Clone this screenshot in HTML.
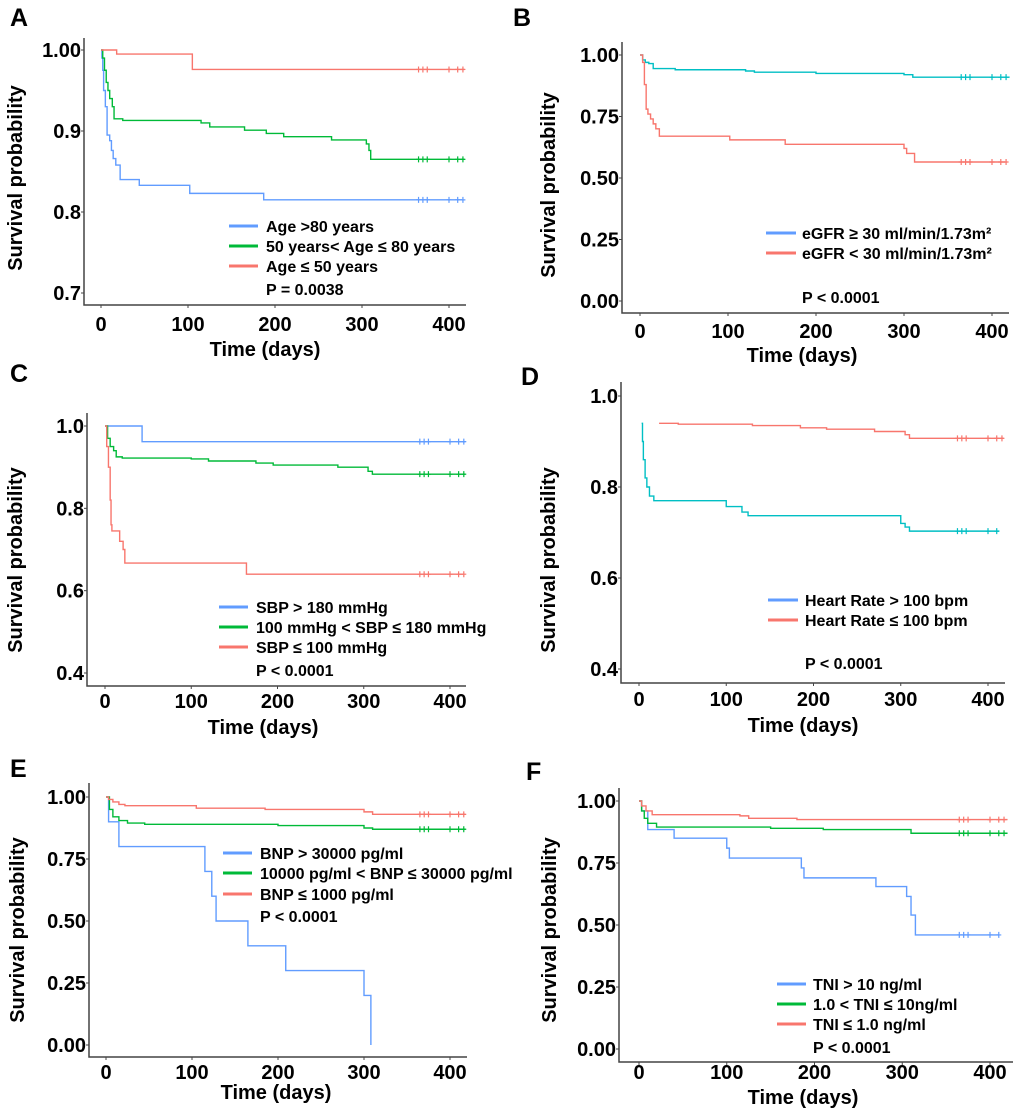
<!DOCTYPE html>
<html><head><meta charset="utf-8"><style>
body{margin:0;background:#fff}
svg{display:block;font-family:"Liberation Sans",Arial,sans-serif;font-weight:bold}
</style></head><body>
<svg id="fig" width="1020" height="1118" viewBox="0 0 1020 1118" xmlns="http://www.w3.org/2000/svg"></svg>
<script>
// ---- Data (days, survival) ----
const xTicks = [0,100,200,300,400];
const A_red = [[0,1],[18,0.995],[105,0.976],[418,0.976]];
const A_green = [[0,1],[2,0.99],[4,0.975],[6,0.96],[8,0.95],[10,0.94],[13,0.93],[15,0.915],[25,0.913],[115,0.91],[125,0.905],[165,0.901],[190,0.897],[210,0.893],[265,0.889],[305,0.884],[308,0.876],[310,0.865],[418,0.865]];
const A_blue = [[0,1],[1,0.99],[2,0.975],[3,0.95],[5,0.93],[7,0.895],[10,0.888],[12,0.876],[14,0.866],[17,0.858],[22,0.84],[44,0.833],[102,0.823],[187,0.815],[415,0.815]];
const B_teal = [[0,1],[3,0.98],[6,0.97],[10,0.965],[15,0.945],[40,0.94],[120,0.935],[130,0.93],[200,0.925],[300,0.92],[310,0.91],[420,0.91]];
const B_red = [[0,1],[3,0.97],[5,0.88],[7,0.78],[9,0.76],[12,0.74],[15,0.72],[18,0.70],[22,0.67],[102,0.655],[165,0.637],[300,0.62],[303,0.6],[312,0.565],[415,0.565]];
const C_blue = [[0,1],[43,0.962],[418,0.962]];
const C_green = [[0,1],[3,0.97],[6,0.95],[10,0.94],[13,0.925],[20,0.922],[100,0.92],[120,0.915],[175,0.91],[195,0.905],[270,0.9],[305,0.89],[310,0.883],[418,0.883]];
const C_red = [[0,1],[2,0.95],[4,0.9],[6,0.82],[7,0.76],[8,0.745],[17,0.72],[21,0.7],[23,0.667],[164,0.64],[415,0.64]];
const D_teal = [[3,0.94],[4,0.9],[5,0.86],[7,0.82],[9,0.8],[12,0.78],[17,0.77],[100,0.757],[118,0.745],[125,0.737],[300,0.72],[305,0.712],[310,0.703],[413,0.703]];
const D_red = [[23,0.94],[45,0.938],[130,0.935],[185,0.93],[215,0.927],[270,0.922],[305,0.915],[310,0.907],[418,0.907]];
const E_red = [[0,1],[3,0.99],[8,0.98],[15,0.97],[22,0.965],[105,0.955],[185,0.95],[300,0.94],[310,0.93],[418,0.93]];
const E_green = [[0,1],[4,0.95],[8,0.92],[15,0.905],[25,0.895],[45,0.89],[200,0.885],[300,0.875],[310,0.87],[418,0.87]];
const E_blue = [[0,1],[3,0.9],[15,0.8],[115,0.7],[123,0.6],[128,0.5],[165,0.4],[209,0.3],[300,0.2],[308,0.0]];
const F_red = [[0,1],[3,0.98],[8,0.96],[15,0.945],[115,0.94],[125,0.93],[180,0.925],[420,0.925]];
const F_green = [[0,1],[3,0.96],[6,0.93],[10,0.91],[20,0.895],[150,0.89],[210,0.885],[310,0.87],[420,0.87]];
const F_blue = [[0,1],[3,0.96],[8,0.96],[10,0.885],[40,0.85],[100,0.81],[103,0.77],[185,0.73],[188,0.69],[270,0.655],[305,0.615],[310,0.54],[315,0.46],[410,0.46]];
const censorTimes = [365,370,375,400,410,416];

const BLUE='#619CFF',GREEN='#00BA38',RED='#F8766D',TEAL='#00BFC4';
const NS='http://www.w3.org/2000/svg';
const svg=document.getElementById('fig');
function mk(tag,attrs,parent){const e=document.createElementNS(NS,tag);for(const k in attrs)e.setAttribute(k,attrs[k]);(parent||svg).appendChild(e);return e;}

const panels=[
 {id:'a',letter:'A',lx:10,ly:26,left:84,bottom:305,top:38,right:466,x0:101,x400:449,yv0:1.0,yp0:50,yv1:0.7,yp1:293,yTicks:[1.0,0.9,0.8,0.7],yLab:['1.00','0.9','0.8','0.7'],tf:20,xlb:331,
  series:[[A_blue,BLUE],[A_green,GREEN],[A_red,RED]],
  leg:{x1:229,x2:258,tx:266,ys:[226,246,266],py:289},labels:['Age >80 years','50 years< Age ≤ 80 years','Age ≤ 50 years'],legCol:[BLUE,GREEN,RED],p:'P = 0.0038',xt:[265,356],yt:[22,178]},
 {id:'b',letter:'B',lx:513,ly:26,left:622,bottom:313,top:42,right:1009,x0:640,x400:992,yv0:1.0,yp0:55,yv1:0.0,yp1:301,yTicks:[1,0.75,0.5,0.25,0],yLab:['1.00','0.75','0.50','0.25','0.00'],tf:20,xlb:338,
  series:[[B_teal,TEAL],[B_red,RED]],
  leg:{x1:766,x2:796,tx:802,ys:[233,253],py:297},labels:['eGFR ≥ 30 ml/min/1.73m²','eGFR < 30 ml/min/1.73m²'],legCol:[BLUE,RED],p:'P < 0.0001',xt:[802,362],yt:[555,185]},
 {id:'c',letter:'C',lx:10,ly:382,left:87,bottom:686,top:413,right:466,x0:105,x400:450,yv0:1.0,yp0:426,yv1:0.4,yp1:673,yTicks:[1,0.8,0.6,0.4],yLab:['1.0','0.8','0.6','0.4'],tf:20,xlb:708,
  series:[[C_blue,BLUE],[C_green,GREEN],[C_red,RED]],
  leg:{x1:219,x2:248,tx:256,ys:[607,627,647],py:670},labels:['SBP > 180 mmHg','100 mmHg < SBP ≤ 180 mmHg','SBP ≤ 100 mmHg'],legCol:[BLUE,GREEN,RED],p:'P < 0.0001',xt:[263,734],yt:[22,560]},
 {id:'d',letter:'D',lx:521,ly:385,left:621,bottom:683,top:382,right:1005,x0:639,x400:988,yv0:1.0,yp0:396,yv1:0.4,yp1:669,yTicks:[1,0.8,0.6,0.4],yLab:['1.0','0.8','0.6','0.4'],tf:20,xlb:706,
  series:[[D_teal,TEAL],[D_red,RED]],
  leg:{x1:768,x2:798,tx:805,ys:[600,620],py:663},labels:['Heart Rate > 100 bpm','Heart Rate ≤ 100 bpm'],legCol:[BLUE,RED],p:'P < 0.0001',xt:[803,732],yt:[555,560]},
 {id:'e',letter:'E',lx:10,ly:777,left:89,bottom:1057,top:783,right:467,x0:106,x400:450,yv0:1.0,yp0:797,yv1:0.0,yp1:1045,yTicks:[1,0.75,0.5,0.25,0],yLab:['1.00','0.75','0.50','0.25','0.00'],tf:20,xlb:1079,
  series:[[E_blue,BLUE],[E_green,GREEN],[E_red,RED]],
  leg:{x1:223,x2:252,tx:260,ys:[853,873,894],py:916},labels:['BNP > 30000 pg/ml','10000 pg/ml < BNP ≤ 30000 pg/ml','BNP ≤ 1000 pg/ml'],legCol:[BLUE,GREEN,RED],p:'P < 0.0001',xt:[276,1099],yt:[24,930]},
 {id:'f',letter:'F',lx:526,ly:780,left:619,bottom:1062,top:788,right:1013,x0:639,x400:990,yv0:1.0,yp0:801,yv1:0.0,yp1:1049,yTicks:[1,0.75,0.5,0.25,0],yLab:['1.00','0.75','0.50','0.25','0.00'],tf:20,xlb:1079,
  series:[[F_blue,BLUE],[F_green,GREEN],[F_red,RED]],
  leg:{x1:777,x2:806,tx:813,ys:[984,1004,1024],py:1047},labels:['TNI > 10 ng/ml','1.0 < TNI ≤ 10ng/ml','TNI ≤ 1.0 ng/ml'],legCol:[BLUE,GREEN,RED],p:'P < 0.0001',xt:[803,1104],yt:[556,930]}
];

panels.forEach(P=>{
  const g=mk('g',{});
  
  
  const X=t=>P.x0+(P.x400-P.x0)*t/400;
  const Y=v=>P.yp0+(P.yp1-P.yp0)*(v-P.yv0)/(P.yv1-P.yv0);
  const lt=mk('text',{x:P.lx,y:P.ly,'font-size':25},g);lt.textContent=P.letter;
  
  
  const ax=mk('path',{d:`M${P.left} ${P.top}V${P.bottom}H${P.right}`,fill:'none',stroke:'#444','stroke-width':1.5},g);
  
  
  P.yTicks.forEach((v,i)=>{
    mk('line',{x1:P.left-3,x2:P.left,y1:Y(v),y2:Y(v),stroke:'#444'},g);
    const t=mk('text',{x:P.left-3,y:Y(v)+7,'text-anchor':'end','font-size':P.tf},g);t.textContent=P.yLab[i];
    
    
  });
  xTicks.forEach(v=>{
    mk('line',{x1:X(v),x2:X(v),y1:P.bottom,y2:P.bottom+3,stroke:'#444'},g);
    const t=mk('text',{x:X(v),y:P.xlb,'text-anchor':'middle','font-size':P.tf},g);t.textContent=v;
    
    
  });
  const xt=mk('text',{x:P.xt[0],y:P.xt[1],'text-anchor':'middle','font-size':20},g);xt.textContent='Time (days)';
  
  
  const yt=mk('text',{x:0,y:0,'text-anchor':'middle','font-size':20,transform:`translate(${P.yt[0]},${P.yt[1]}) rotate(-90)`},g);yt.textContent='Survival probability';
  
  
  P.series.forEach((s,si)=>{
    const pts=s[0];let d=`M${X(pts[0][0])} ${Y(pts[0][1])}`;
    for(let i=1;i<pts.length;i++){d+=`H${X(pts[i][0])}V${Y(pts[i][1])}`;}
    const c=mk('path',{d:d,fill:'none',stroke:s[1],'stroke-width':1.4},g);
    
    
    const last=pts[pts.length-1];
    if(last[1]>0){
      censorTimes.forEach(t=>{ if(t<=last[0]+2){
        const cx=X(t),cy=Y(last[1]);
        const m=mk('path',{d:`M${cx-2.5} ${cy}H${cx+2.5}M${cx} ${cy-3}V${cy+3}`,stroke:s[1],'stroke-width':1.2},g);
        
        
      }});
    }
  });
  P.labels.forEach((lab,i)=>{
    const y=P.leg.ys[i];
    const l=mk('line',{x1:P.leg.x1,x2:P.leg.x2,y1:y,y2:y,stroke:P.legCol[i],'stroke-width':3},g);
    
    
    const t=mk('text',{x:P.leg.tx,y:y+6,'font-size':16},g);t.textContent=lab;
    
    
  });
  const pt=mk('text',{x:P.leg.tx,y:P.leg.py+6,'font-size':16},g);pt.textContent=P.p;
  
  
});
</script>
</body></html>
